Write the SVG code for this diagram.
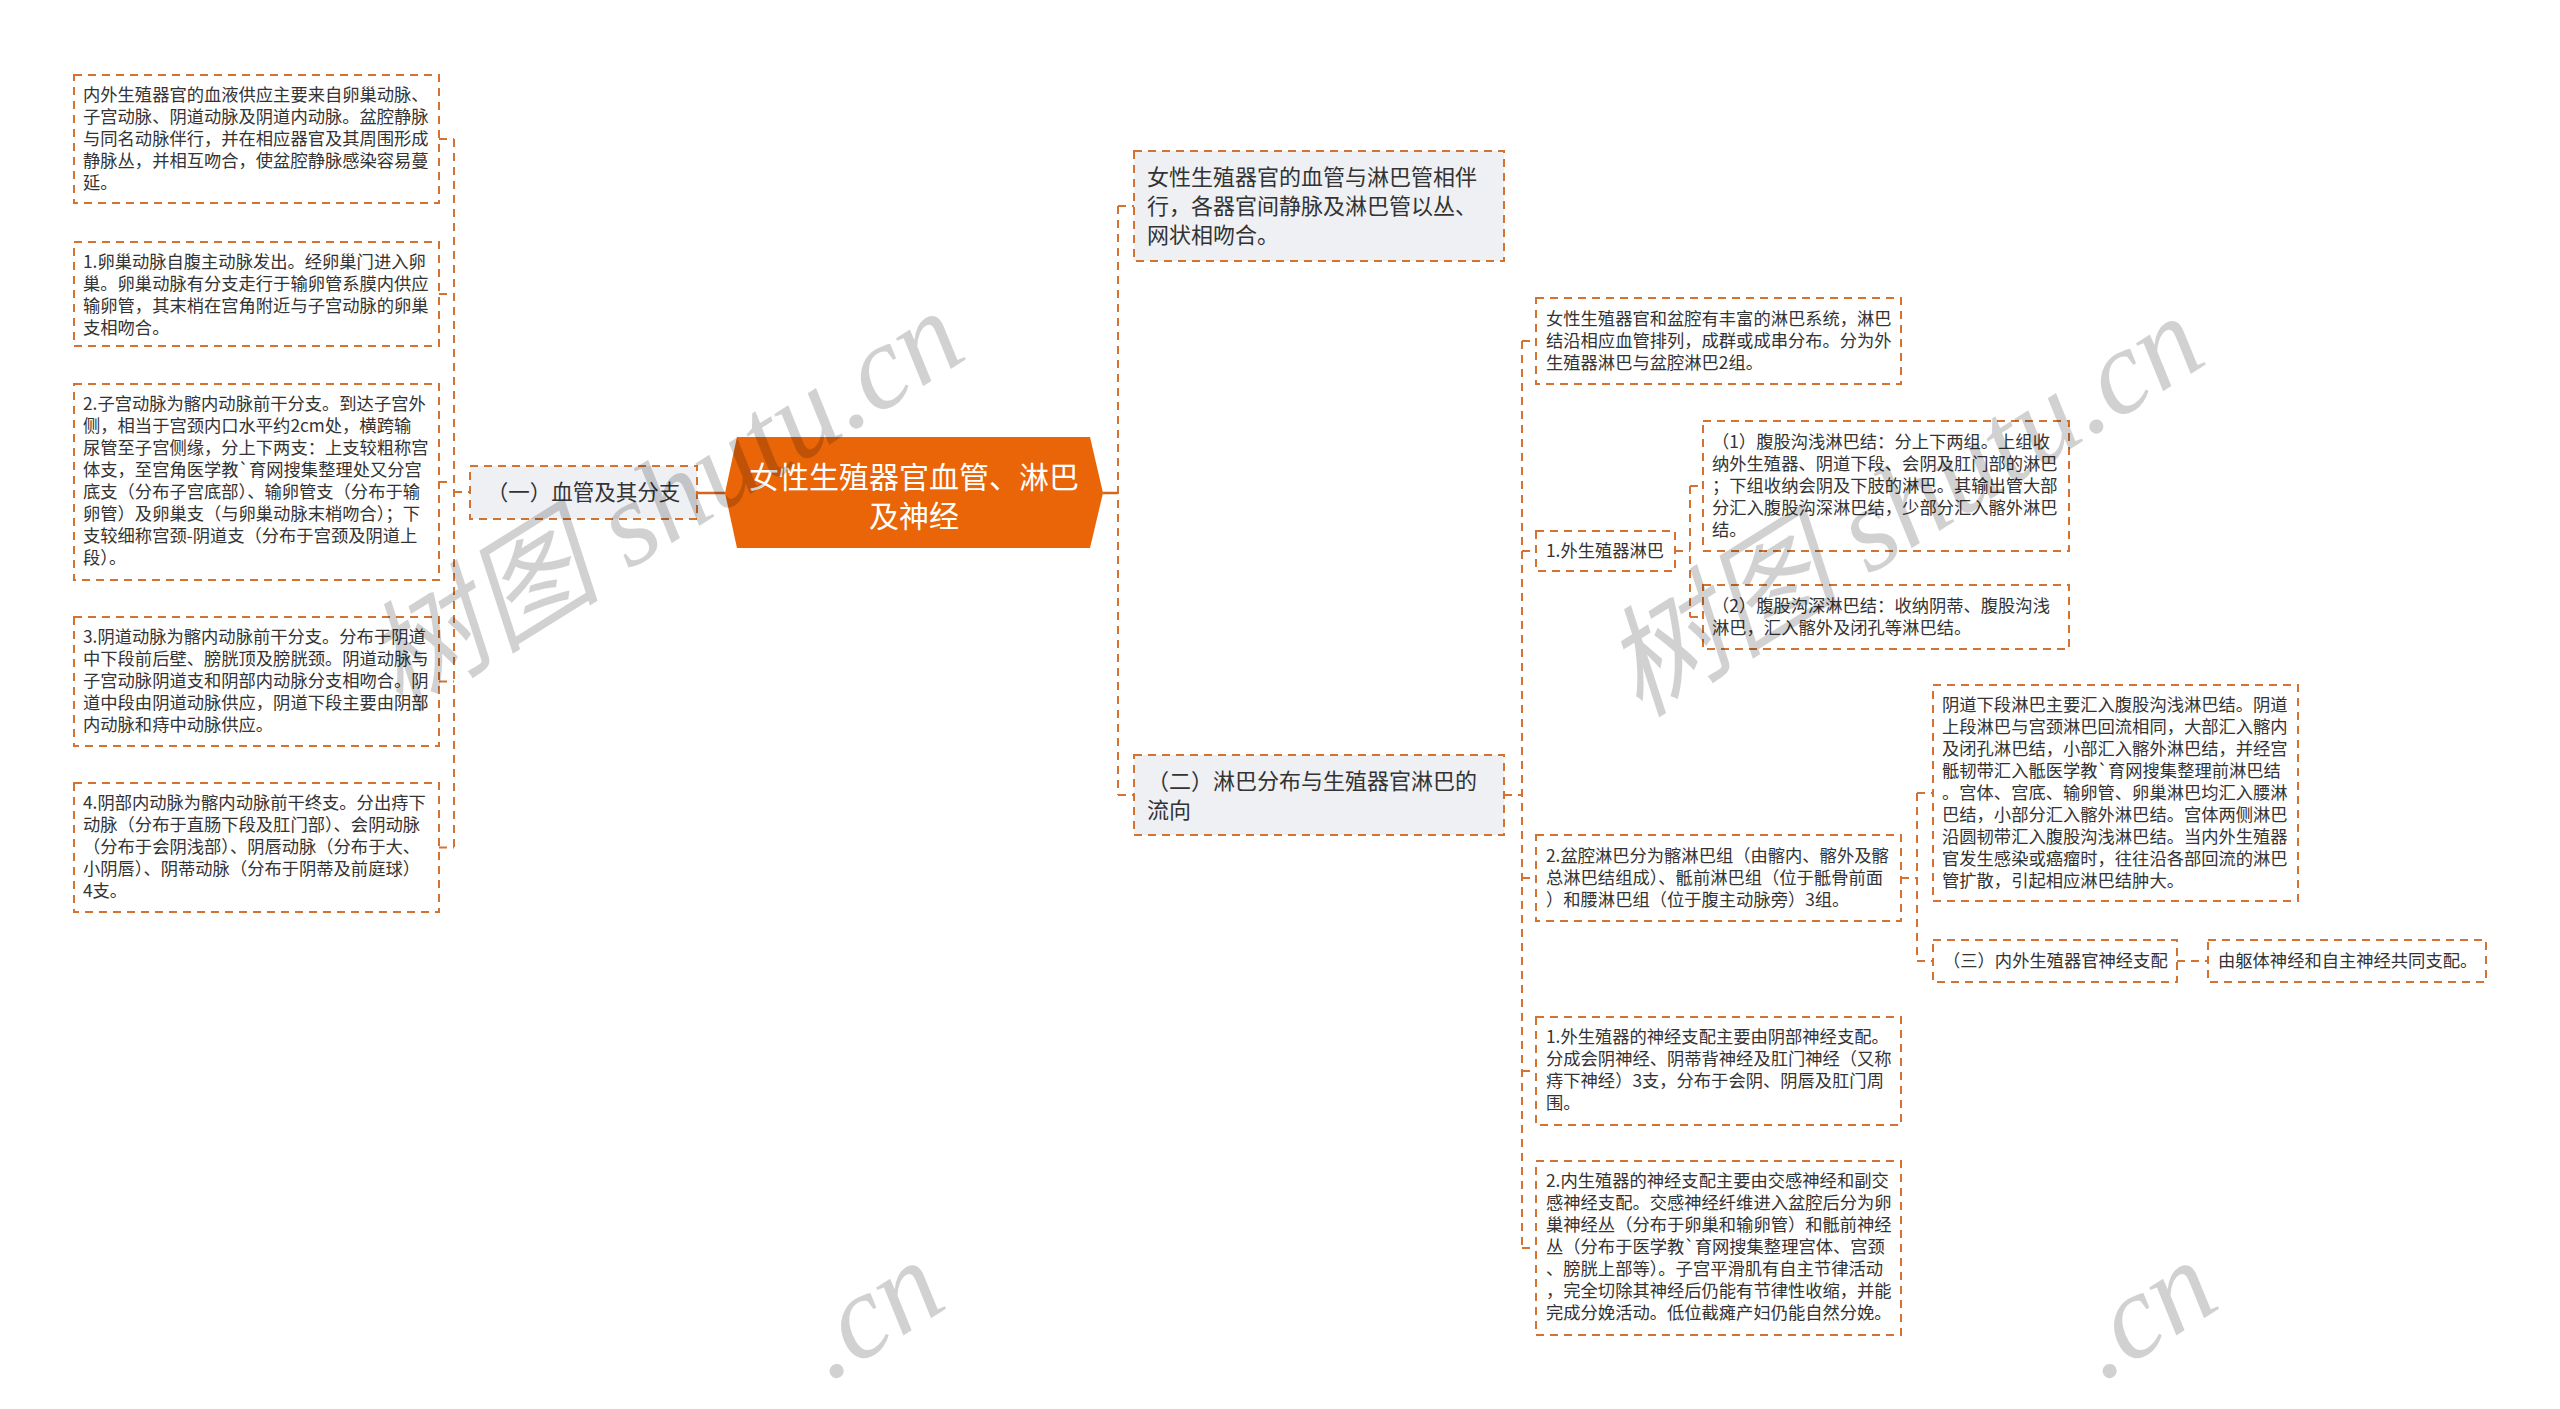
<svg xmlns="http://www.w3.org/2000/svg" width="2560" height="1409" viewBox="0 0 2560 1409">
<style>
.bg{fill:#ffffff}
.box{fill:#ffffff;stroke:#D4722F;stroke-width:2;stroke-dasharray:8 6}
.gbox{fill:#EEF0F3;stroke:#D4722F;stroke-width:2;stroke-dasharray:8 6}
.t{font-family:"Noto Sans CJK SC","Noto Sans",sans-serif;font-size:17.3px;fill:#333333}
.t2{font-family:"Noto Sans CJK SC","Noto Sans",sans-serif;font-size:22px;fill:#333333}
.t3{font-family:"Noto Sans CJK SC","Noto Sans",sans-serif;font-size:21.5px;fill:#333333}
.root{font-family:"Noto Sans CJK SC","Noto Sans",sans-serif;font-size:30px;fill:#ffffff}
.dl{fill:none;stroke:#D4722F;stroke-width:2;stroke-dasharray:8 6}
.sl{fill:none;stroke:#D4661F;stroke-width:2.5}
.wm{font-family:"Liberation Serif","Noto Sans CJK SC",serif;font-style:italic;font-size:120px;fill:#000000;fill-opacity:0.18}
</style>
<rect class="bg" x="0" y="0" width="2560" height="1409"/>

<g id="connectors">
  <path class="sl" d="M697 493H725M1103 493H1118"/>
  <path class="dl" d="M454 139V847.5M439 139H454M439 294H454M439 482H454M439 681.5H454M439 847.5H454M454 492H470"/>
  <path class="dl" d="M1118 206V795M1118 206H1134M1118 795H1134"/>
  <path class="dl" d="M1504 795H1522M1522 341V1248M1522 341H1536M1522 551H1536M1522 878H1536M1522 1071H1536M1522 1248H1536"/>
  <path class="dl" d="M1675 551H1690M1690 486V617M1690 486H1703M1690 617H1703"/>
  <path class="dl" d="M1901 878H1917M1917 793V961M1917 793H1933M1917 961H1933"/>
  <path class="dl" d="M2177 961H2208"/>
</g>

<g id="root">
  <polygon points="725,493 737,437 1090,437 1103,493 1090,548 737,548" fill="#EA6408"/>
  <text class="root" text-anchor="middle"><tspan x="914" y="488">女性生殖器官血管、淋巴</tspan><tspan x="914" y="527">及神经</tspan></text>
</g>

<g id="n-left1">
  <rect class="gbox" x="470" y="466" width="227" height="53"/>
  <text class="t3" text-anchor="middle" x="583.5" y="500">（一）血管及其分支</text>
</g>

<g id="n-a">
  <rect class="box" x="74" y="75" width="365" height="128"/>
  <text class="t"><tspan x="83" y="101">内外生殖器官的血液供应主要来自卵巢动脉、</tspan><tspan x="83" y="123">子宫动脉、阴道动脉及阴道内动脉。盆腔静脉</tspan><tspan x="83" y="145">与同名动脉伴行，并在相应器官及其周围形成</tspan><tspan x="83" y="167">静脉丛，并相互吻合，使盆腔静脉感染容易蔓</tspan><tspan x="83" y="189">延。</tspan></text>
</g>

<g id="n-b">
  <rect class="box" x="74" y="242" width="365" height="104"/>
  <text class="t"><tspan x="83" y="268">1.卵巢动脉自腹主动脉发出。经卵巢门进入卵</tspan><tspan x="83" y="290">巢。卵巢动脉有分支走行于输卵管系膜内供应</tspan><tspan x="83" y="312">输卵管，其末梢在宫角附近与子宫动脉的卵巢</tspan><tspan x="83" y="334">支相吻合。</tspan></text>
</g>

<g id="n-c">
  <rect class="box" x="74" y="384" width="365" height="196"/>
  <text class="t"><tspan x="83" y="410">2.子宫动脉为髂内动脉前干分支。到达子宫外</tspan><tspan x="83" y="432">侧，相当于宫颈内口水平约2cm处，横跨输</tspan><tspan x="83" y="454">尿管至子宫侧缘，分上下两支：上支较粗称宫</tspan><tspan x="83" y="476">体支，至宫角医学教`育网搜集整理处又分宫</tspan><tspan x="83" y="498">底支（分布子宫底部）、输卵管支（分布于输</tspan><tspan x="83" y="520">卵管）及卵巢支（与卵巢动脉末梢吻合）；下</tspan><tspan x="83" y="542">支较细称宫颈-阴道支（分布于宫颈及阴道上</tspan><tspan x="83" y="564">段）。</tspan></text>
</g>

<g id="n-d">
  <rect class="box" x="74" y="617" width="365" height="129"/>
  <text class="t"><tspan x="83" y="643">3.阴道动脉为髂内动脉前干分支。分布于阴道</tspan><tspan x="83" y="665">中下段前后壁、膀胱顶及膀胱颈。阴道动脉与</tspan><tspan x="83" y="687">子宫动脉阴道支和阴部内动脉分支相吻合。阴</tspan><tspan x="83" y="709">道中段由阴道动脉供应，阴道下段主要由阴部</tspan><tspan x="83" y="731">内动脉和痔中动脉供应。</tspan></text>
</g>

<g id="n-e">
  <rect class="box" x="74" y="783" width="365" height="129"/>
  <text class="t"><tspan x="83" y="809">4.阴部内动脉为髂内动脉前干终支。分出痔下</tspan><tspan x="83" y="831">动脉（分布于直肠下段及肛门部）、会阴动脉</tspan><tspan x="83" y="853">（分布于会阴浅部）、阴唇动脉（分布于大、</tspan><tspan x="83" y="875">小阴唇）、阴蒂动脉（分布于阴蒂及前庭球）</tspan><tspan x="83" y="897">4支。</tspan></text>
</g>

<g id="n-r1">
  <rect class="gbox" x="1134" y="151" width="370" height="110"/>
  <text class="t2"><tspan x="1147" y="185">女性生殖器官的血管与淋巴管相伴</tspan><tspan x="1147" y="214">行，各器官间静脉及淋巴管以丛、</tspan><tspan x="1147" y="243">网状相吻合。</tspan></text>
</g>

<g id="n-r2">
  <rect class="gbox" x="1134" y="755" width="370" height="80"/>
  <text class="t2"><tspan x="1147" y="789">（二）淋巴分布与生殖器官淋巴的</tspan><tspan x="1147" y="818">流向</tspan></text>
</g>

<g id="n-c1">
  <rect class="box" x="1536" y="298" width="365" height="86"/>
  <text class="t"><tspan x="1546" y="325">女性生殖器官和盆腔有丰富的淋巴系统，淋巴</tspan><tspan x="1546" y="347">结沿相应血管排列，成群或成串分布。分为外</tspan><tspan x="1546" y="369">生殖器淋巴与盆腔淋巴2组。</tspan></text>
</g>

<g id="n-c2">
  <rect class="box" x="1536" y="531" width="139" height="40"/>
  <text class="t" x="1546" y="557">1.外生殖器淋巴</text>
</g>

<g id="n-c2a">
  <rect class="box" x="1703" y="421" width="366" height="130"/>
  <text class="t"><tspan x="1712" y="448">（1）腹股沟浅淋巴结：分上下两组。上组收</tspan><tspan x="1712" y="470">纳外生殖器、阴道下段、会阴及肛门部的淋巴</tspan><tspan x="1712" y="492">；下组收纳会阴及下肢的淋巴。其输出管大部</tspan><tspan x="1712" y="514">分汇入腹股沟深淋巴结，少部分汇入髂外淋巴</tspan><tspan x="1712" y="536">结。</tspan></text>
</g>

<g id="n-c2b">
  <rect class="box" x="1703" y="585" width="366" height="64"/>
  <text class="t"><tspan x="1712" y="612">（2）腹股沟深淋巴结：收纳阴蒂、腹股沟浅</tspan><tspan x="1712" y="634">淋巴，汇入髂外及闭孔等淋巴结。</tspan></text>
</g>

<g id="n-c3">
  <rect class="box" x="1536" y="835" width="365" height="86"/>
  <text class="t"><tspan x="1546" y="862">2.盆腔淋巴分为髂淋巴组（由髂内、髂外及髂</tspan><tspan x="1546" y="884">总淋巴结组成）、骶前淋巴组（位于骶骨前面</tspan><tspan x="1546" y="906">）和腰淋巴组（位于腹主动脉旁）3组。</tspan></text>
</g>

<g id="n-c3a">
  <rect class="box" x="1933" y="685" width="365" height="216"/>
  <text class="t"><tspan x="1942" y="711">阴道下段淋巴主要汇入腹股沟浅淋巴结。阴道</tspan><tspan x="1942" y="733">上段淋巴与宫颈淋巴回流相同，大部汇入髂内</tspan><tspan x="1942" y="755">及闭孔淋巴结，小部汇入髂外淋巴结，并经宫</tspan><tspan x="1942" y="777">骶韧带汇入骶医学教`育网搜集整理前淋巴结</tspan><tspan x="1942" y="799">。宫体、宫底、输卵管、卵巢淋巴均汇入腰淋</tspan><tspan x="1942" y="821">巴结，小部分汇入髂外淋巴结。宫体两侧淋巴</tspan><tspan x="1942" y="843">沿圆韧带汇入腹股沟浅淋巴结。当内外生殖器</tspan><tspan x="1942" y="865">官发生感染或癌瘤时，往往沿各部回流的淋巴</tspan><tspan x="1942" y="887">管扩散，引起相应淋巴结肿大。</tspan></text>
</g>

<g id="n-c3b">
  <rect class="box" x="1933" y="940" width="244" height="42"/>
  <text class="t" x="1943" y="967">（三）内外生殖器官神经支配</text>
</g>

<g id="n-c3c">
  <rect class="box" x="2208" y="940" width="278" height="42"/>
  <text class="t" x="2218" y="967">由躯体神经和自主神经共同支配。</text>
</g>

<g id="n-c4">
  <rect class="box" x="1536" y="1017" width="365" height="108"/>
  <text class="t"><tspan x="1546" y="1043">1.外生殖器的神经支配主要由阴部神经支配。</tspan><tspan x="1546" y="1065">分成会阴神经、阴蒂背神经及肛门神经（又称</tspan><tspan x="1546" y="1087">痔下神经）3支，分布于会阴、阴唇及肛门周</tspan><tspan x="1546" y="1109">围。</tspan></text>
</g>

<g id="n-c5">
  <rect class="box" x="1536" y="1161" width="365" height="174"/>
  <text class="t"><tspan x="1546" y="1187">2.内生殖器的神经支配主要由交感神经和副交</tspan><tspan x="1546" y="1209">感神经支配。交感神经纤维进入盆腔后分为卵</tspan><tspan x="1546" y="1231">巢神经丛（分布于卵巢和输卵管）和骶前神经</tspan><tspan x="1546" y="1253">丛（分布于医学教`育网搜集整理宫体、宫颈</tspan><tspan x="1546" y="1275">、膀胱上部等）。子宫平滑肌有自主节律活动</tspan><tspan x="1546" y="1297">，完全切除其神经后仍能有节律性收缩，并能</tspan><tspan x="1546" y="1319">完成分娩活动。低位截瘫产妇仍能自然分娩。</tspan></text>
</g>

<g id="watermark">
  <text class="wm" text-anchor="middle" transform="translate(685,535) rotate(-32)">树图 shutu.cn</text>
  <text class="wm" text-anchor="middle" transform="translate(1925,540) rotate(-32)">树图 shutu.cn</text>
  <text class="wm" text-anchor="middle" transform="translate(890,1344) rotate(-32)">.cn</text>
  <text class="wm" text-anchor="middle" transform="translate(2163,1344) rotate(-32)">.cn</text>
</g>
</svg>
